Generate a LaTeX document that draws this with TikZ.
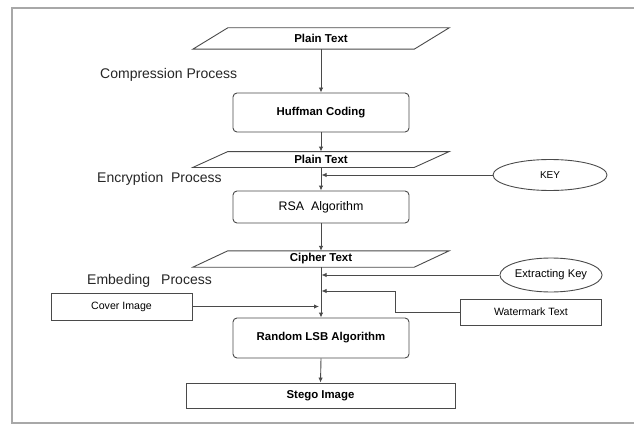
\documentclass[tikz,border=0pt]{standalone}
\usepackage{fontspec}
\setmainfont{Liberation Sans}
\usetikzlibrary{arrows.meta,shapes.geometric}
\definecolor{linec}{HTML}{4A4A4A}
\definecolor{framec}{HTML}{A8A8A8}
\tikzset{
  arr/.style={draw=linec, line width=0.9pt, -{Latex[length=5pt,width=4.5pt]}},
  pgram/.style={draw=none, minimum width=221pt, inner sep=0pt, font=\fontsize{11.5}{13}\selectfont\bfseries},
  pgline/.style={draw=linec, line width=0.9pt},
  rbox/.style={draw=linec, line width=0.9pt, rounded corners=4pt, minimum width=176pt, inner sep=0pt},
  sbox/.style={draw=linec, line width=0.9pt, inner sep=0pt},
  ell/.style={draw=linec, line width=0.9pt, ellipse, inner sep=0pt},
  proc/.style={anchor=west, inner sep=0pt, text=black!85, font=\fontsize{14}{16}\selectfont},
  bfb/.style={font=\fontsize{11.4}{13}\selectfont\bfseries},
  rgb/.style={font=\fontsize{10.6}{12}\selectfont}
}
\newcommand{\pgshape}[1]{%
  \draw[pgline] ([xshift=17.5pt]#1.north west) -- ([xshift=17.5pt]#1.north east)
    -- ([xshift=-17.5pt]#1.south east) -- ([xshift=-17.5pt]#1.south west) -- cycle;}
\begin{document}
\begin{tikzpicture}[x=1pt,y=-1pt]
\useasboundingbox (0,0) rectangle (634,425);
\fill[white] (0,0) rectangle (634,425);
% frame
\draw[framec, line width=1.6pt] (634,8) -- (12,8) -- (12,423) -- (634,423);

% central column
\node[pgram, minimum height=21pt] (pt1) at (321,38.5) {Plain Text};
\pgshape{pt1}
\node[rbox, minimum height=39pt, bfb] (huff) at (321,112.5) {Huffman Coding};
\node[pgram, minimum height=15.5pt] (pt2) at (321,159.5) {Plain Text};
\pgshape{pt2}
\node[rbox, minimum height=32pt, font=\fontsize{12.4}{14}\selectfont] (rsa) at (321,207) {RSA\ \ Algorithm};
\node[pgram, minimum height=16pt] (ct) at (321,259) {Cipher Text};
\pgshape{ct}
\node[rbox, minimum height=40pt, bfb] (lsb) at (321,338) {Random LSB Algorithm};
\node[sbox, minimum width=269pt, minimum height=25pt, bfb] (stego) at (320.5,395.5) {Stego Image};

% side nodes
\node[ell, minimum width=114pt, minimum height=31pt, font=\fontsize{10}{12}\selectfont] (key) at (550,175) {KEY};
\node[ell, minimum width=102pt, minimum height=34pt, font=\fontsize{11.2}{13}\selectfont] (ek) at (551,275) {Extracting Key};
\node[sbox, minimum width=141pt, minimum height=26pt, rgb] (wm) at (531,312) {Watermark Text};
\node[sbox, minimum width=141pt, minimum height=27pt, rgb] (cover) at (121.5,306.5) {Cover Image};

% process labels
\node[proc] (lc) at (100,75) {Compression Process};
\node[proc] (le) at (97,179) {Encryption\ \ Process};
\node[proc] (lm) at (87,281) {Embeding\hspace{11pt}Process};

% junction coordinates
\coordinate (jk) at (321.5,175);
\coordinate (je) at (321.5,275);
\coordinate (jw) at (321.5,291);
\coordinate (jc) at (319,306.5);

% connectors
\draw[arr] (pt1.south) -- (huff.north);
\draw[arr] (huff.south) -- (pt2.north);
\draw[arr] (pt2.south) -- (rsa.north);
\draw[arr] (rsa.south) -- (ct.north);
\draw[arr] (ct.south) -- (lsb.north);
\draw[arr] (lsb.south) -- (stego.north);
\draw[arr] (key.west) -- (jk);
\draw[arr] (ek.west) -- (je);
\draw[arr] (wm.west) -- ++(-65,0) |- (jw);
\draw[arr] (cover.east) -- (jc);
\end{tikzpicture}
\end{document}
